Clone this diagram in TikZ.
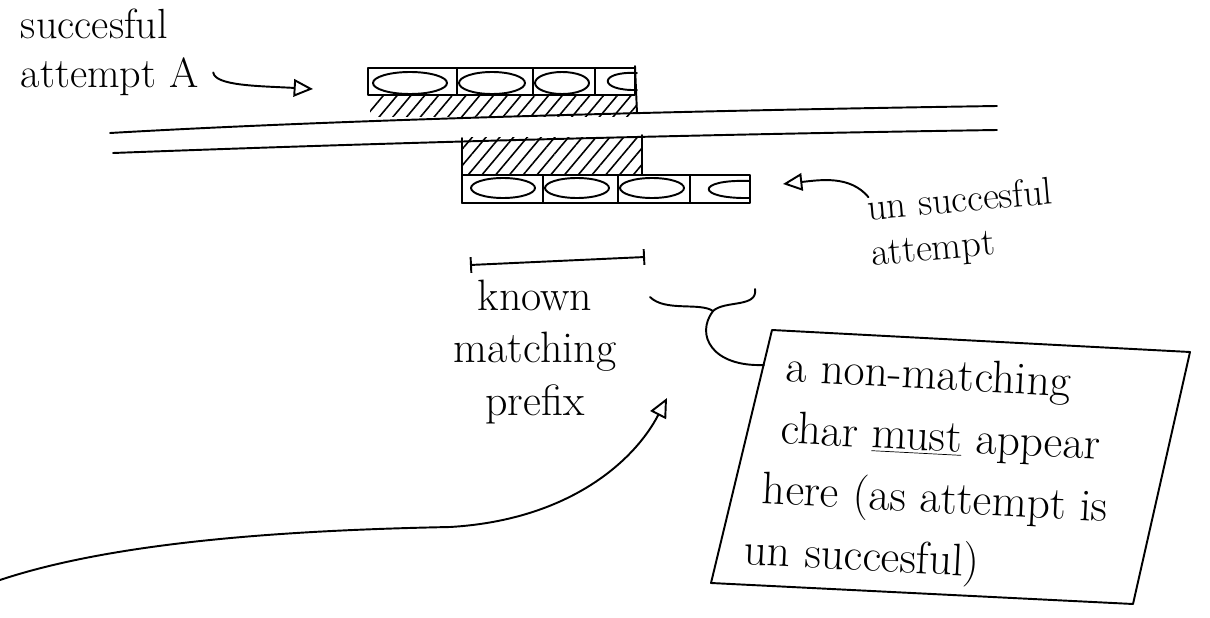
\documentclass[tikz,border=0pt]{standalone}
\usetikzlibrary{arrows.meta,patterns.meta}
\begin{document}
\begin{tikzpicture}[x=0.02cm,y=-0.02cm,line width=1.1pt,line cap=round,line join=round]
  \tikzstyle{lbl} = [font=\fontsize{22}{26}\selectfont, inner sep=0pt]
  \tikzstyle{big} = [font=\fontsize{25}{30}\selectfont, inner sep=0pt]
  \tikzstyle{note} = [font=\fontsize{26}{35}\selectfont, inner sep=0pt, align=left]
  \tikzstyle{arr} = [-{Triangle[open,length=11pt,width=10pt]}]
  \tikzstyle{hatch} = [pattern={Lines[angle=50,distance=6pt,line width=0.9pt]}]
  \useasboundingbox (0,0) rectangle (1210,618);

  % Leitungen
  \draw (110,133) .. controls (300,122) and (600,112) .. (997,106);
  \draw (113,153) .. controls (300,146) and (600,136) .. (997,130);

  % Versuch A
  \fill[hatch] (370,96) rectangle (637,117);
  \draw (368,68) rectangle (635,95);
  \foreach \x in {457,533,595} \draw (\x,68) -- (\x,95);
  \draw (635,66) -- (637,113);
  \foreach \cx/\rx in {410/37,492/33,562/27} \draw (\cx,83) ellipse [x radius=\rx, y radius=11];
  \draw (637,73) .. controls (598,71) and (598,91) .. (637,90);
  \coordinate (rowA) at (313,89);

  % Versuch B
  \fill[hatch] (462,138) rectangle (642,175);
  \draw (462,138) -- (462,203);
  \draw (642,135) -- (642,175);
  \draw (462,175) rectangle (750,203);
  \foreach \x in {543,618,690} \draw (\x,175) -- (\x,203);
  \foreach \cx in {503,577,652} \draw (\cx,188) ellipse [x radius=32, y radius=10];
  \draw (750,181) .. controls (695,179) and (695,199) .. (750,198);
  \coordinate (rowB) at (783,184);

  % Beschriftungen
  \node[lbl, font=\fontsize{24}{28}\selectfont, align=left, anchor=north west] (succ) at (20,8) {succesful\\attempt A};
  \node[lbl, align=left, rotate=5] (unsucc) at (962,225) {un succesful\\attempt};
  \node[big, align=center] (kmp) at (535,352) {known\\matching\\prefix};
  \node[note, rotate=-3, anchor=west] (txt) at (748,462) {\hspace*{0.65cm}a non-matching\\\hspace*{0.6cm}char \underline{must} appear\\\hspace*{0.3cm}here (as attempt is\\un succesful)};

  % Notizkasten
  \coordinate (bnw) at (772,330);
  \coordinate (bne) at (1190,352);
  \coordinate (bse) at (1133,604);
  \coordinate (bsw) at (711,583);
  \coordinate (boxw) at (764,365);
  \draw (bnw) -- (bne) -- (bse) -- (bsw) -- cycle;

  % Klammer
  \coordinate (brl) at (650,297);
  \coordinate (brtip) at (713,311);
  \coordinate (brr) at (755,289);
  \draw (brl) .. controls (665,312) and (700,302) .. (brtip) .. controls (725,300) and (758,308) .. (brr);
  \draw (brtip) .. controls (695,335) and (712,367) .. (boxw);

  % Praefix
  \coordinate (pl) at (470,265);
  \coordinate (pr) at (645,257);
  \draw[{Bar[width=9pt]}-{Bar[width=9pt]}] (pl) -- (pr);

  % Pfeile
  \coordinate (tail) at (0,580);
  \coordinate (kmptip) at (667,398);
  \draw[arr] ([shift={(14,20)}]succ.east) .. controls (215,86) and (260,86) .. (rowA);
  \draw[arr] ([shift={(0,-36)}]unsucc.west) .. controls (850,175) and (820,180) .. (rowB);
  \draw[arr] (tail) .. controls (120,540) and (300,530) .. (450,527) .. controls (570,520) and (635,460) .. (kmptip);
\end{tikzpicture}
\end{document}
